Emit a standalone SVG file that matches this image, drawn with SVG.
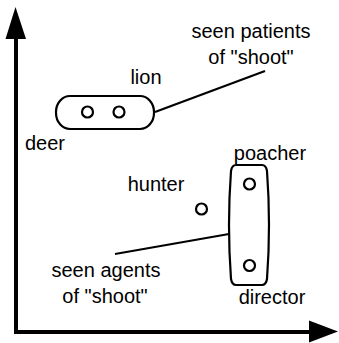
<svg xmlns="http://www.w3.org/2000/svg" width="339" height="343" viewBox="0 0 339 343">
  <style>
    .axis { stroke: #000; stroke-width: 4; fill: none; }
    .head { fill: #000; stroke: none; }
    .shape { fill: #fff; stroke: #000; stroke-width: 2.2; }
    .pt { fill: #fff; stroke: #000; stroke-width: 2.2; }
    .link { stroke: #000; stroke-width: 2.2; fill: none; }
    text { font-family: "Liberation Sans", Arial, sans-serif; font-size: 20px; fill: #000; text-anchor: middle; }
  </style>

  <!-- axes -->
  <g id="axes">
    <polyline class="axis" points="16,36 16,332 312,332"/>
    <polygon class="head" points="15.5,7 26,39 5.5,39"/>
    <polygon class="head" points="338,331.5 309,320.5 309,342.5"/>
  </g>

  <!-- connectors from labels to groups -->
  <g id="connectors">
    <line class="link" x1="155" y1="112" x2="265" y2="71"/>
    <line class="link" x1="115" y1="254" x2="229" y2="234"/>
  </g>

  <!-- patients group: deer, lion -->
  <g id="patients">
    <rect class="shape" x="56" y="96" width="98" height="33" rx="14" ry="16"/>
    <circle class="pt" cx="87.5" cy="112" r="5.5"/>
    <circle class="pt" cx="119" cy="112" r="5.5"/>
  </g>

  <!-- agents group: poacher, director -->
  <g id="agents">
    <path class="shape" d="M236,165 L262,165 Q266,165 267,171 Q271,225 267,279 Q266,285 262,285 L236,285 Q232,285 231,279 Q227,225 231,171 Q232,165 236,165 Z"/>
    <circle class="pt" cx="249.5" cy="184" r="5.5"/>
    <circle class="pt" cx="249.5" cy="265.5" r="5.5"/>
  </g>

  <!-- hunter -->
  <g id="hunter">
    <circle class="pt" cx="201.5" cy="209" r="5.5"/>
  </g>

  <!-- labels -->
  <g id="labels">
    <text x="251" y="38">seen patients</text>
    <text x="251" y="64">of "shoot"</text>
    <text x="146" y="84">lion</text>
    <text x="45" y="150">deer</text>
    <text x="270" y="160">poacher</text>
    <text x="156" y="191">hunter</text>
    <text x="106" y="277">seen agents</text>
    <text x="105" y="303">of "shoot"</text>
    <text x="272" y="304">director</text>
  </g>
</svg>
